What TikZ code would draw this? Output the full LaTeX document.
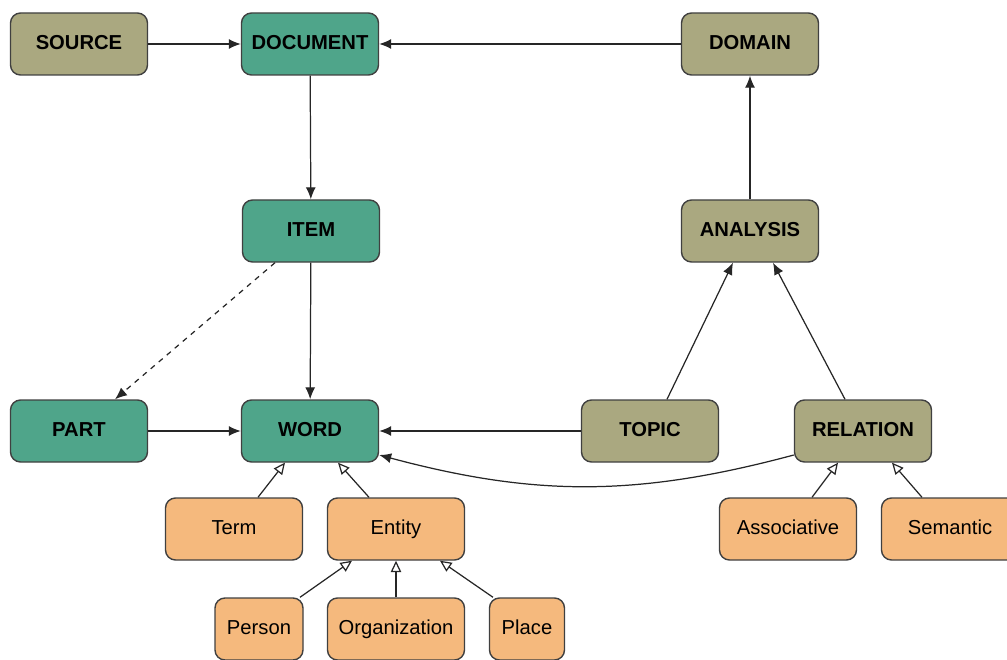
\documentclass[tikz,border=0pt]{standalone}
\usepackage{fontspec}
\setmainfont{Liberation Sans}
\usetikzlibrary{arrows.meta}
\definecolor{docgreen}{RGB}{79,165,138}
\definecolor{olive}{RGB}{170,168,128}
\definecolor{peach}{RGB}{245,185,125}
\tikzset{
  box/.style={draw=black!75,text=black,line width=0.8pt,rounded corners=0.2cm,minimum width=2.74cm,minimum height=1.24cm,text height=8.3pt,text depth=2.4pt,font=\fontsize{11.5}{13}\selectfont},
  core/.style={box,fill=docgreen,font=\fontsize{11.5}{13}\selectfont\bfseries},
  meta/.style={box,fill=olive,font=\fontsize{11.5}{13}\selectfont\bfseries},
  kind/.style={box,fill=peach},
  isa/.style={-{Triangle[open,length=2.3mm,width=2.1mm]},fill=white}
}
\begin{document}
\begin{tikzpicture}[line width=0.7pt,black!85,>={Latex[length=2.4mm,width=2mm]}]
    \useasboundingbox (0,0) rectangle (20.14,13.18);
    \node[meta] (source) at (1.58,12.30) {SOURCE};
    \node[core] (document) at (6.20,12.30) {DOCUMENT};
    \node[meta] (domain) at (15.00,12.30) {DOMAIN};
    \node[core] (item) at (6.22,8.56) {ITEM};
    \node[meta] (analysis) at (15.00,8.56) {ANALYSIS};
    \node[core] (part) at (1.58,4.56) {PART};
    \node[core] (word) at (6.20,4.56) {WORD};
    \node[meta] (topic) at (13.00,4.56) {TOPIC};
    \node[meta] (relation) at (17.26,4.56) {RELATION};
    \node[kind] (term) at (4.68,2.60) {Term};
    \node[kind] (entity) at (7.92,2.60) {Entity};
    \node[kind] (assoc) at (15.76,2.60) {Associative};
    \node[kind] (semantic) at (19.00,2.60) {Semantic};
    \node[kind,minimum width=1.76cm] (person) at (5.18,0.60) {Person};
    \node[kind] (org) at (7.92,0.60) {Organization};
    \node[kind,minimum width=1.5cm] (place) at (10.54,0.60) {Place};
    \path[->](source)	edge			(document)
	   (domain)	edge			(document)
	   (document)	edge			(item)
	   (analysis)	edge			(domain)
	   (item)		edge			(word)
	   (part)		edge			(word)
	   (topic)		edge			(word)
	   ([xshift=-0.72cm]item.south)	edge [dashed]	([xshift=0.72cm]part.north)
	   ([xshift=0.34cm]topic.north)	edge			([xshift=-0.34cm]analysis.south)
	   ([xshift=-0.36cm]relation.north)	edge			([xshift=0.46cm]analysis.south)
	   ([yshift=-0.48cm]relation.west)	edge [bend left=15]	([yshift=-0.48cm]word.east);
    \path[isa]([xshift=0.48cm]term.north)	edge			([xshift=-0.5cm]word.south)
	   ([xshift=-0.54cm]entity.north)	edge			([xshift=0.56cm]word.south)
	   ([xshift=0.82cm]person.north)	edge			([xshift=-0.88cm]entity.south)
	   (org)		edge			(entity)
	   ([xshift=-0.68cm]place.north)	edge			([xshift=0.88cm]entity.south)
	   ([xshift=0.48cm]assoc.north)	edge			([xshift=-0.5cm]relation.south)
	   ([xshift=-0.56cm]semantic.north)	edge			([xshift=0.58cm]relation.south);
  \end{tikzpicture}
\end{document}
